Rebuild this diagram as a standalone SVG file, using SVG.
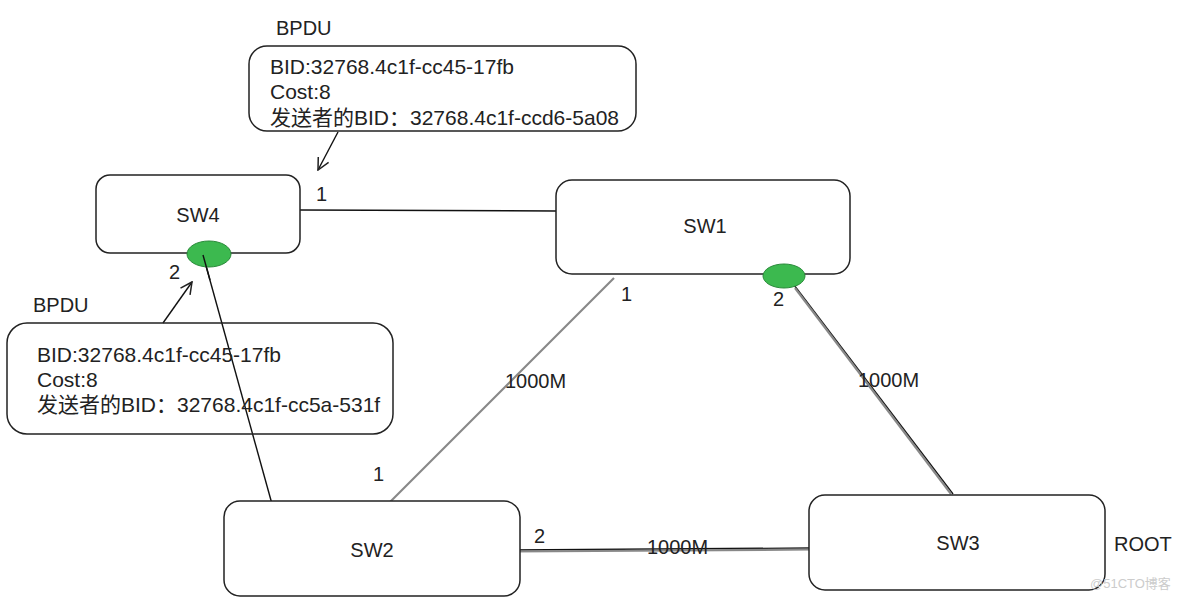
<svg xmlns="http://www.w3.org/2000/svg" width="1184" height="600" viewBox="0 0 1184 600">
<style>
.box{fill:#fff;stroke:#222;stroke-width:1.5}
.t{font-family:"Liberation Sans","Noto Sans CJK SC",sans-serif;fill:#222}
.lbl{font-size:20px}
.bp{font-size:21px}
.ln{stroke:#111;stroke-width:1.4;fill:none}
.gl{stroke:#888;stroke-width:2.2;fill:none}
.port{fill:#3cb94f;stroke:#2a8a3a;stroke-width:1}
</style>
<defs>
<marker id="oa" viewBox="0 0 12 12" refX="11" refY="6" markerWidth="14" markerHeight="14" markerUnits="userSpaceOnUse" orient="auto">
<path d="M1,1 L11,6 L1,11" fill="none" stroke="#222" stroke-width="1.3"/>
</marker>
</defs>
<rect width="1184" height="600" fill="#fff"/>
<g id="connectors">
<line class="ln" x1="300" y1="210" x2="556" y2="211"/>
<line class="ln" x1="203" y1="255" x2="272" y2="504"/>
<line class="gl" x1="614" y1="278" x2="390" y2="502"/>
<line class="ln" x1="794" y1="285" x2="953" y2="494"/>
<line class="gl" x1="795" y1="288" x2="951" y2="494" stroke-width="1"/>
<line class="ln" x1="512" y1="550" x2="812" y2="548"/>
<line class="gl" x1="512" y1="551.5" x2="812" y2="549.5" stroke-width="1"/>
<line class="ln" x1="338" y1="132" x2="318" y2="170" marker-end="url(#oa)"/>
<line class="ln" x1="163" y1="323" x2="192" y2="282" marker-end="url(#oa)"/>
<text class="t lbl" x="316" y="201">1</text>
<text class="t lbl" x="169" y="279">2</text>
<text class="t lbl" x="621" y="301">1</text>
<text class="t lbl" x="773" y="306">2</text>
<text class="t lbl" x="373" y="481">1</text>
<text class="t lbl" x="534" y="543">2</text>
<text class="t lbl" x="505" y="388">1000M</text>
<text class="t lbl" x="858" y="387">1000M</text>
<text class="t lbl" x="647" y="554">1000M</text>
</g>
<g id="bpdu-top">
<text class="t lbl" x="276" y="35">BPDU</text>
<rect class="box" x="249" y="46" width="387" height="85" rx="18"/>
<text class="t bp" x="270" y="74">BID:32768.4c1f-cc45-17fb</text>
<text class="t bp" x="270" y="99">Cost:8</text>
<text class="t bp" x="270" y="125">发送者的BID：32768.4c1f-ccd6-5a08</text>
</g>
<g id="bpdu-bottom">
<text class="t lbl" x="33" y="312">BPDU</text>
<rect class="box" x="7" y="323" width="386" height="111" rx="20" fill-opacity="0"/>
<text class="t bp" x="37" y="362">BID:32768.4c1f-cc45-17fb</text>
<text class="t bp" x="37" y="387">Cost:8</text>
<text class="t bp" x="37" y="412">发送者的BID：32768.4c1f-cc5a-531f</text>
</g>
<g id="sw4">
<rect class="box" x="96" y="175" width="204" height="78" rx="14"/>
<text class="t lbl" x="198" y="222" text-anchor="middle">SW4</text>
<ellipse class="port" cx="209" cy="254" rx="22" ry="13"/>
<line class="ln" x1="203" y1="255" x2="210" y2="280"/>
</g>
<g id="sw1">
<rect class="box" x="556" y="180" width="294" height="94" rx="16"/>
<text class="t lbl" x="705" y="233" text-anchor="middle">SW1</text>
<ellipse class="port" cx="784" cy="276" rx="21" ry="12"/>
</g>
<g id="sw2">
<rect class="box" x="224" y="501" width="296" height="95" rx="16"/>
<text class="t lbl" x="372" y="557" text-anchor="middle">SW2</text>
</g>
<g id="sw3">
<rect class="box" x="809" y="495" width="296" height="95" rx="16"/>
<text class="t lbl" x="958" y="550" text-anchor="middle">SW3</text>
</g>
<text class="t" x="1114" y="551" font-size="20">ROOT</text>
<text x="1090" y="588" font-family="Liberation Sans,'Noto Sans CJK SC',sans-serif" font-size="13" fill="#ccc">@51CTO博客</text>
</svg>
